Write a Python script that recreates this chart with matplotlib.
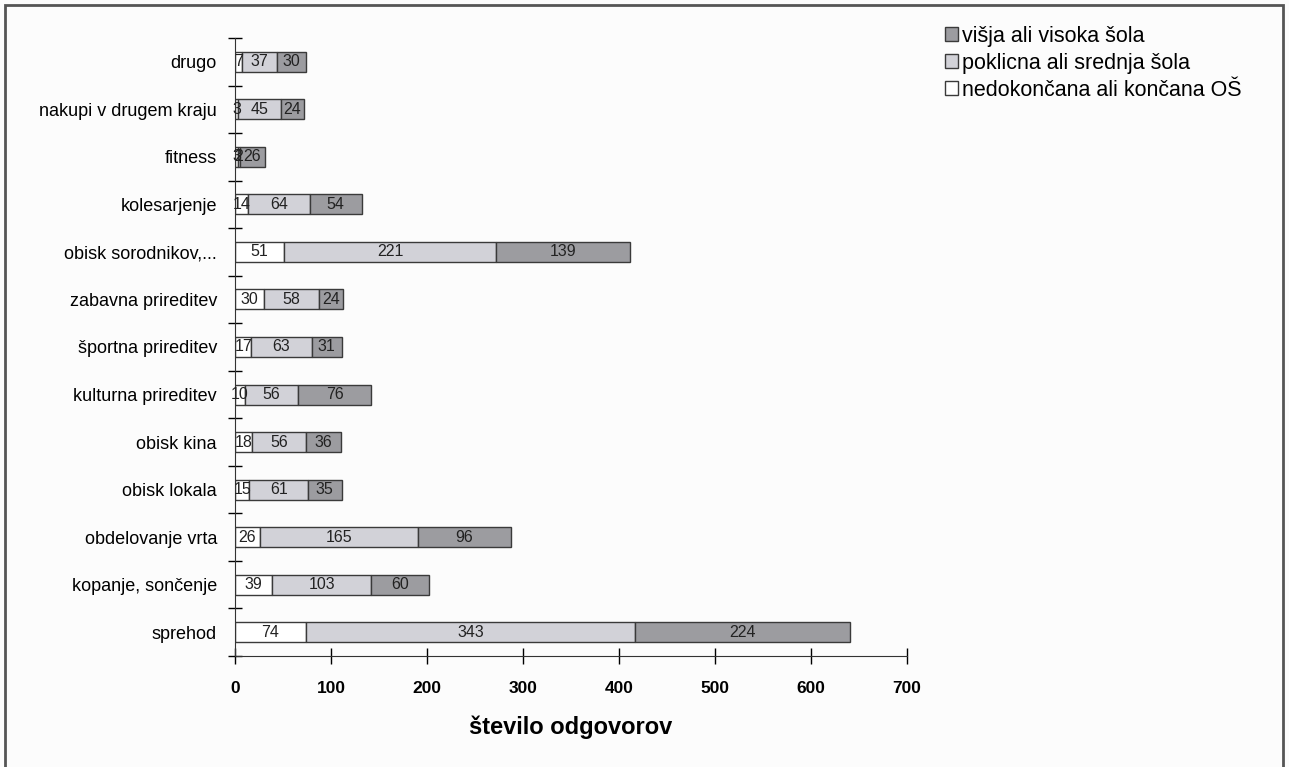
import matplotlib.pyplot as plt
import numpy as np
from matplotlib.patches import Rectangle

plt.rcParams['font.family'] = ['Liberation Sans', 'DejaVu Sans']

categories = ['drugo', 'nakupi v drugem kraju', 'fitness', 'kolesarjenje',
              'obisk sorodnikov,...', 'zabavna prireditev', 'športna prireditev',
              'kulturna prireditev', 'obisk kina', 'obisk lokala',
              'obdelovanje vrta', 'kopanje, sončenje', 'sprehod']
osnovna = [7, 3, 3, 14, 51, 30, 17, 10, 18, 15, 26, 39, 74]
srednja = [37, 45, 2, 64, 221, 58, 63, 56, 56, 61, 165, 103, 343]
visoka = [30, 24, 26, 54, 139, 24, 31, 76, 36, 35, 96, 60, 224]
series_names = ['nedokončana ali končana OŠ', 'poklicna ali srednja šola',
                'višja ali visoka šola']
colors = ['#ffffff', '#d2d2d8', '#9c9ca0']

fig = plt.figure(figsize=(12.89, 7.67), dpi=100)
fig.patch.set_facecolor('#fcfcfc')
ax = fig.add_axes([0.1823, 0.1447, 0.5214, 0.8058])
ax.set_facecolor('none')

# categories from bottom (sprehod) to top (drugo)
ypos = np.arange(len(categories))[::-1]
left = np.zeros(len(categories))
bars = []
for vals, col, name in zip([osnovna, srednja, visoka], colors, series_names):
    b = ax.barh(ypos, vals, left=left, height=0.42, color=col,
                edgecolor='#3a3a3a', linewidth=1.0, label=name)
    bars.append(b)
    for y, l, v in zip(ypos, left, vals):
        ax.text(l + v / 2, y, str(v), ha='center', va='center',
                fontsize=11.5, color='#222222')
    left = left + np.array(vals)

ax.set_xlim(0, 700)
ax.set_ylim(-0.5, len(categories) - 0.5)
ax.set_xticks(range(0, 701, 100))
ax.set_yticks(np.arange(-0.5, len(categories), 1.0))
ax.set_yticklabels([])
ax.set_yticks(ypos, minor=True)
ax.set_yticklabels(categories, minor=True, fontsize=13)
ax.tick_params(axis='y', which='minor', length=0, pad=13)
ax.tick_params(axis='y', which='major', direction='inout', length=10, width=1)
ax.tick_params(axis='x', direction='inout', length=12, width=1, pad=12,
               labelsize=12.5)
for t in ax.get_xticklabels():
    t.set_fontweight('bold')
for s in ['top', 'right']:
    ax.spines[s].set_visible(False)
ax.spines['left'].set_color('#333333')
ax.spines['bottom'].set_color('#333333')
ax.set_xlabel('število odgovorov', fontsize=17, fontweight='bold', labelpad=14)

handles = [bars[2], bars[1], bars[0]]
labels = [series_names[2], series_names[1], series_names[0]]
fig.legend(handles, labels, loc='upper left', bbox_to_anchor=(0.718, 0.992),
           frameon=False, fontsize=15.5, handlelength=0.6, handleheight=0.6,
           handletextpad=0.2, labelspacing=0.28)

fig.patches.append(Rectangle((0.004, -0.02), 0.991, 1.013, transform=fig.transFigure,
                             fill=False, edgecolor='#555555', linewidth=2))

fig.savefig('out.png', dpi=100, facecolor=fig.get_facecolor())
